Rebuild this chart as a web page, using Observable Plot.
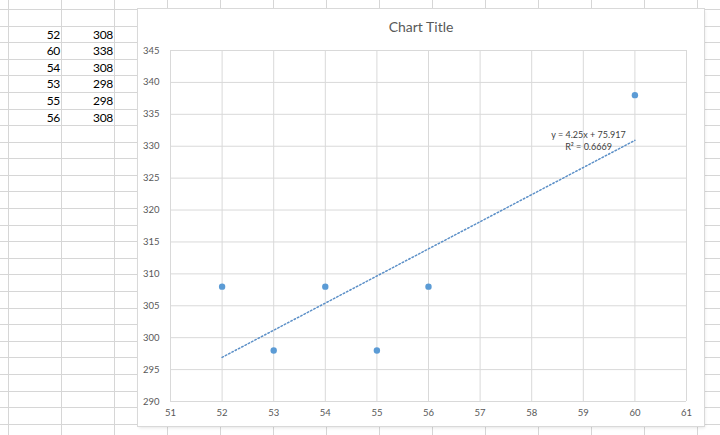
<!DOCTYPE html>
<html>
<head>
<meta charset="utf-8">
<script src="https://cdn.jsdelivr.net/npm/d3@7"></script>
<script src="https://cdn.jsdelivr.net/npm/@observablehq/plot@0.6"></script>
<style>
  html, body { margin: 0; padding: 0; background: #fff; }
  #page { position: relative; width: 720px; height: 435px; overflow: hidden; background: #fff; font-family: Lato, "Open Sans", sans-serif; }
  #cols { position: absolute; left: 8px; top: 0; width: 712px; height: 435px;
    background-image: repeating-linear-gradient(to right, #d6d6d6 0 1px, transparent 1px 53px); }
  #rows { position: absolute; left: 0; top: 9px; width: 720px; height: 426px;
    background-image: repeating-linear-gradient(to bottom, #d6d6d6 0 1px, transparent 1px 16.59px); }
  .cell { position: absolute; height: 16.59px; line-height: 17px; text-align: right; font-size: 12px; color: #000; letter-spacing: -0.3px; }
  #box { position: absolute; left: 138px; top: 9px; width: 566px; height: 417px; background: #fff;
    box-shadow: 0 0 0 1px #d9d9d9, 1px 2px 3px rgba(0,0,0,0.10); }
  #title { position: absolute; left: 0; top: 9px; width: 100%; text-align: center; font-size: 14px; color: #595959; line-height: 18px; }
  #chart { position: absolute; left: 0; top: 0; }
  #chart g[aria-label="linear-regression"] path { stroke-dasharray: 1.5 2.2; }
</style>
</head>
<body>
<div id="page">
  <div id="cols"></div>
  <div id="rows"></div>
  <div id="box">
    <div id="title">Chart Title</div>
    <div id="chart"></div>
  </div>
</div>
<script>
// Data (columns A and B of the sheet)
const xValues = [52, 60, 54, 53, 55, 56];
const yValues = [308, 338, 308, 298, 298, 308];
// Axis ticks
const xTicks = [51, 52, 53, 54, 55, 56, 57, 58, 59, 60, 61];
const yTicks = [290, 295, 300, 305, 310, 315, 320, 325, 330, 335, 340, 345];
// Trendline label text
const trendLabel = "y = 4.25x + 75.917\nR² = 0.6669";

const page = document.getElementById("page");
xValues.forEach((v, i) => {
  const top = 9 + 16.59 * (i + 1);
  const a = document.createElement("div");
  a.className = "cell"; a.style.left = "9px"; a.style.width = "51px"; a.style.top = top + "px";
  a.textContent = v;
  const b = document.createElement("div");
  b.className = "cell"; b.style.left = "63px"; b.style.width = "50px"; b.style.top = top + "px";
  b.textContent = yValues[i];
  page.appendChild(a); page.appendChild(b);
});

const data = xValues.map((x, i) => ({x, y: yValues[i]}));
const blue = "#5b9bd5";

const chart = Plot.plot({
  width: 566,
  height: 417,
  marginLeft: 32,
  marginTop: 41,
  marginRight: 18,
  marginBottom: 25,
  style: { fontFamily: "Lato, 'Open Sans', sans-serif", fontSize: "9.5px", color: "#595959", background: "transparent" },
  x: { domain: [51, 61], ticks: xTicks },
  y: { domain: [290, 345], ticks: yTicks },
  marks: [
    Plot.gridX(xTicks, { stroke: "#d9d9d9", strokeOpacity: 1 }),
    Plot.gridY(yTicks, { stroke: "#d9d9d9", strokeOpacity: 1 }),
    Plot.axisX(xTicks, { tickSize: 0, tickPadding: 8, label: null, fill: "#595959" }),
    Plot.axisY(yTicks, { tickSize: 0, tickPadding: 11, label: null, fill: "#595959" }),
    Plot.linearRegressionY(data, { x: "x", y: "y", ci: 0, stroke: "#5b8fc7", strokeWidth: 1.5, strokeDasharray: "1.5 2.2" }),
    Plot.dot(data, { x: "x", y: "y", r: 3.2, fill: blue, stroke: "none" }),
    Plot.text([trendLabel], { frameAnchor: "top-right", dx: -98, dy: 90, text: d => d, textAnchor: "middle", lineAnchor: "middle", lineHeight: 1.3, fontSize: 9, fill: "#404040" })
  ]
});
document.getElementById("chart").appendChild(chart);
</script>
</body>
</html>
